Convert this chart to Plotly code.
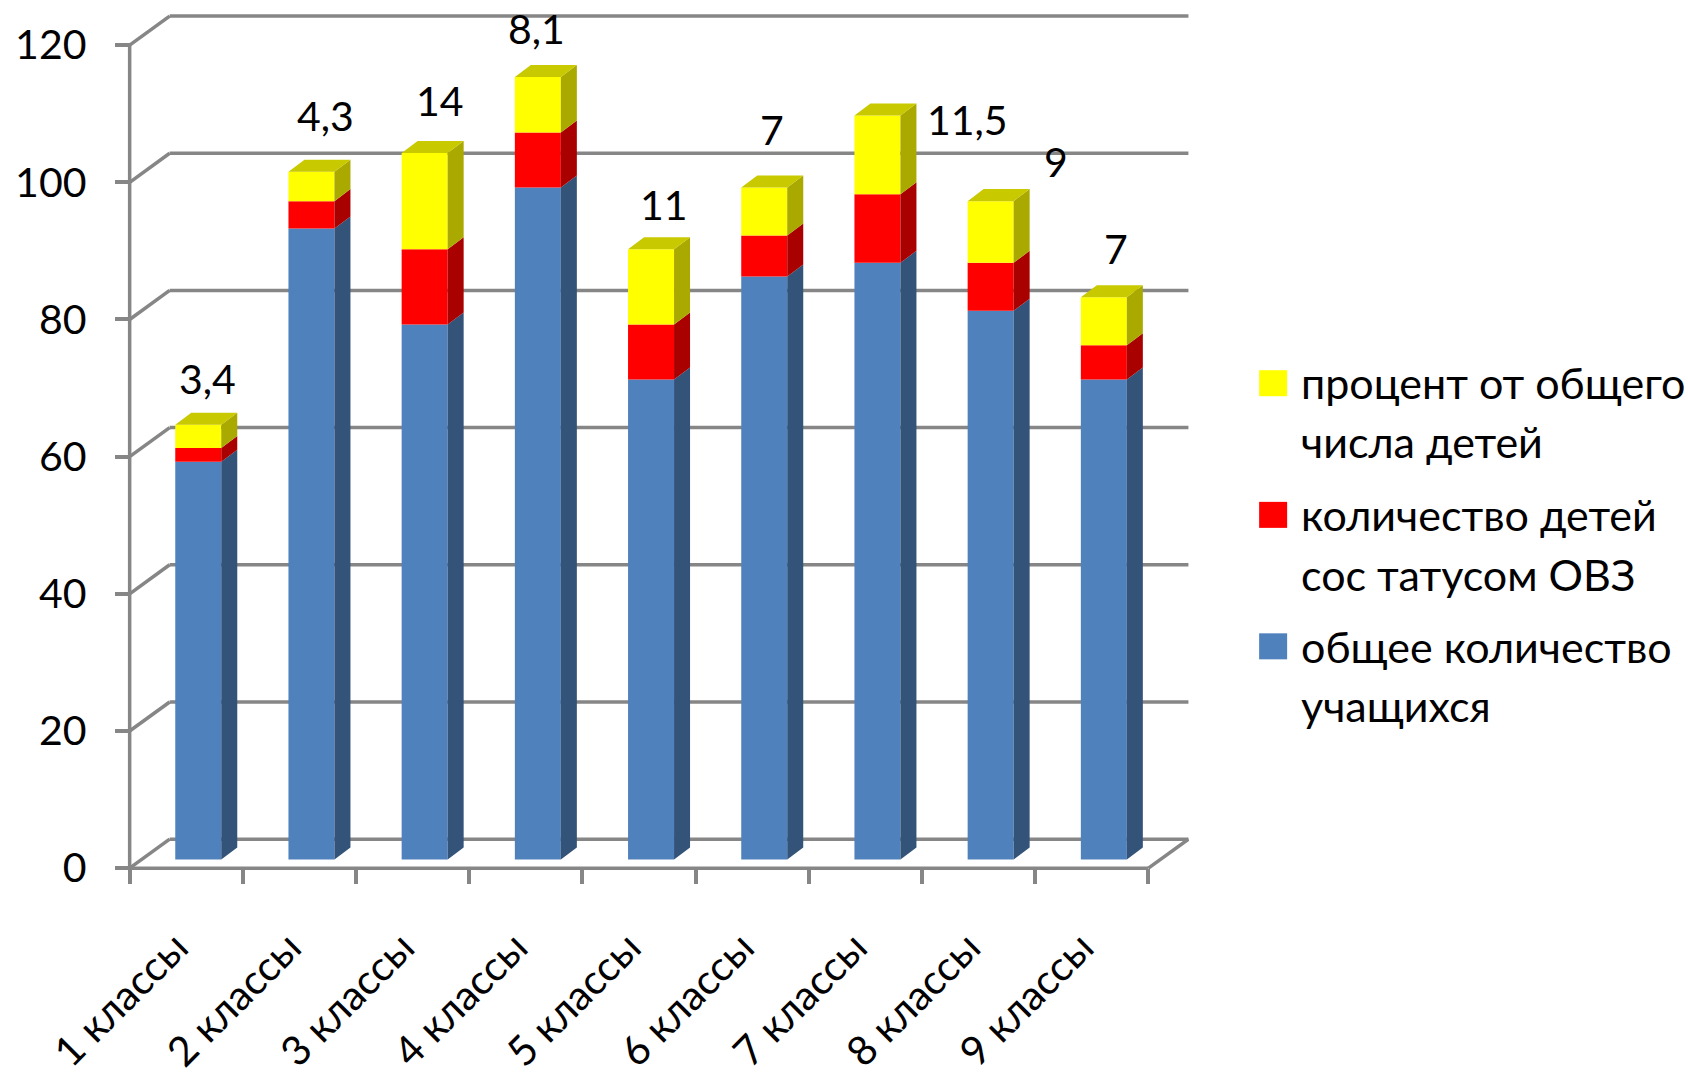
import plotly.graph_objects as go

categories = ["1 классы", "2 классы", "3 классы", "4 классы", "5 классы",
              "6 классы", "7 классы", "8 классы", "9 классы"]
total_students = [58, 92, 78, 98, 70, 85, 87, 80, 70]
ovz_children = [2, 4, 11, 8, 8, 6, 10, 7, 5]
percent_of_total = [3.4, 4.3, 14, 8.1, 11, 7, 11.5, 9, 7]
y_ticks = [0, 20, 40, 60, 80, 100, 120]
legend_lines = [["процент от общего", "числа детей"],
                ["количество детей", "сос татусом ОВЗ"],
                ["общее количество", "учащихся"]]

FONT = "Lato, 'Open Sans', sans-serif"
W, H = 1688, 1076
X0, Y0 = 130.0, 867.7       # pixel of data origin
UX, UY = 113.2, 6.855       # pixels per data unit
GRAY = "#868686"
px = lambda p: p / UX
py = lambda p: p / UY

WALL_X, WALL_Y = px(40), py(29)
BAR_X, BAR_Y = px(12), py(8.6)
DEPTH_X, DEPTH_Y = px(16), py(12)
BAR_W = px(46)
n = len(categories)
x_pad, y_pad = 0.05, 1.0
x_range = [-x_pad, n + WALL_X + 0.005]
y_range = [-y_pad, 120 + WALL_Y + 0.6]

fig = go.Figure()

centers = [i + 0.5 + BAR_X for i in range(n)]
stack = [total_students, ovz_children, percent_of_total]
colors = ["#4F81BD", "#FF0000", "#FFFF00"]
side_colors = ["#335379", "#A90000", "#A9A900"]
top_color = "#C9C900"

base = [BAR_Y] * n
bases = []
for vals in stack:
    bases.append(list(base))
    base = [b + v for b, v in zip(base, vals)]
tops = base

for vals, b, c in zip(stack, bases, colors):
    fig.add_trace(go.Bar(x=centers, y=vals, base=b, width=BAR_W, marker_color=c,
                         marker_line_width=0, showlegend=False, hoverinfo="skip"))

for vals, b, c in zip(stack, bases, side_colors):
    xs, ys = [], []
    for cx, v, b0 in zip(centers, vals, b):
        xr = cx + BAR_W / 2
        xs += [xr, xr + DEPTH_X, xr + DEPTH_X, xr, xr, None]
        ys += [b0, b0 + DEPTH_Y, b0 + v + DEPTH_Y, b0 + v, b0, None]
    fig.add_trace(go.Scatter(x=xs, y=ys, mode="lines", fill="toself", fillcolor=c,
                             line=dict(width=0), showlegend=False, hoverinfo="skip"))

xs, ys = [], []
for cx, t in zip(centers, tops):
    xl, xr = cx - BAR_W / 2, cx + BAR_W / 2
    xs += [xl, xl + DEPTH_X, xr + DEPTH_X, xr, xl, None]
    ys += [t, t + DEPTH_Y, t + DEPTH_Y, t, t, None]
fig.add_trace(go.Scatter(x=xs, y=ys, mode="lines", fill="toself", fillcolor=top_color,
                         line=dict(width=0), showlegend=False, hoverinfo="skip"))

# carrier trace for the category label axis
label_nudge = -0.09
fig.add_trace(go.Scatter(x=centers, y=[None] * n, xaxis="x2", mode="markers",
                         showlegend=False, hoverinfo="skip"))

shapes = []
def seg(x0, y0, x1, y1):
    shapes.append(dict(type="line", xref="x", yref="y", x0=x0, y0=y0, x1=x1, y1=y1,
                       layer="below", line=dict(color=GRAY, width=3.5)))
for v in y_ticks:
    seg(0, v, WALL_X, v + WALL_Y)
    seg(WALL_X, v + WALL_Y, n + WALL_X, v + WALL_Y)
seg(0, 0, 0, y_ticks[-1])
seg(0, 0, n, 0)
seg(n, 0, n + WALL_X, WALL_Y)

# data labels: label text comes from the yellow series
label_text = [str(v).replace(".", ",") for v in percent_of_total]
label_dx = [1, 6, 7, -9, 5, 0, 82, 57, 4]
label_dy = [34, 44, 41, 36, 33, 46, -16, 28, 37]
annotations = []
for cx, t, txt, dx, dy in zip(centers, tops, label_text, label_dx, label_dy):
    annotations.append(dict(x=cx + DEPTH_X / 2, y=t + DEPTH_Y, xref="x", yref="y", text=txt,
                            showarrow=False, xanchor="center", yanchor="middle",
                            xshift=dx, yshift=dy, font=dict(size=41, color="black", family=FONT)))

left = X0 - x_pad * UX
right = left + (x_range[1] - x_range[0]) * UX
bottom = Y0 + y_pad * UY
top = bottom - (y_range[1] - y_range[0]) * UY

# legend block, placed in page pixels (paper coordinates span the plot area)
pfx = lambda p: (p - left) / (right - left)
pfy = lambda p: (bottom - p) / (bottom - top)
line_centers = [[382, 441], [514.6, 574], [646, 705]]
swatch_tops = [370, 501.6, 633]
for lines, centres, sw_top, c in zip(legend_lines, line_centers, swatch_tops, colors[::-1]):
    shapes.append(dict(type="rect", xref="paper", yref="paper", x0=pfx(1259.5), x1=pfx(1287.5),
                       y0=pfy(sw_top), y1=pfy(sw_top + 26), fillcolor=c, line=dict(width=0)))
    for line, yc in zip(lines, centres):
        annotations.append(dict(x=pfx(1299), y=pfy(yc), xref="paper", yref="paper", text=line,
                                showarrow=False, xanchor="left", yanchor="middle",
                                font=dict(size=43, color="black", family=FONT)))

fig.update_layout(
    width=W, height=H, barmode="overlay", showlegend=False,
    paper_bgcolor="white", plot_bgcolor="white",
    margin=dict(l=left, r=W - right, t=top, b=H - bottom, pad=0, autoexpand=False),
    font=dict(family=FONT, color="black"),
    shapes=shapes, annotations=annotations,
    xaxis=dict(range=x_range, tickmode="array", tickvals=list(range(n + 1)), ticktext=[""] * (n + 1),
               ticks="outside", ticklen=15, tickwidth=3.5, tickcolor=GRAY,
               showgrid=False, zeroline=False, showline=False,
               anchor="free", position=y_pad / (y_range[1] - y_range[0])),
    xaxis2=dict(range=x_range, overlaying="x", side="bottom", tickmode="array",
                tickvals=[i + 0.5 + label_nudge for i in range(n)], ticktext=categories,
                tickangle=-45, ticks="", showgrid=False, zeroline=False, showline=False,
                ticklabelstandoff=46, tickfont=dict(size=41, family=FONT, color="black"),
                anchor="free", position=y_pad / (y_range[1] - y_range[0])),
    yaxis=dict(range=y_range, tickmode="array", tickvals=y_ticks,
               ticks="outside", ticklen=15, tickwidth=3.5, tickcolor=GRAY,
               ticklabelstandoff=20,
               showgrid=False, zeroline=False, showline=False,
               tickfont=dict(size=41, family=FONT, color="black"),
               anchor="free", position=x_pad / (x_range[1] - x_range[0])),
)

fig.write_html("out.html", config={"displayModeBar": False},
               post_script="document.body.style.margin='0';")
